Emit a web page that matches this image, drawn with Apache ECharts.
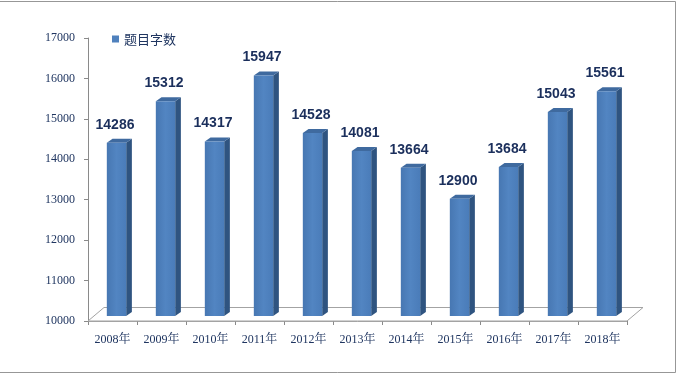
<!DOCTYPE html>
<html>
<head>
<meta charset="utf-8">
<script src="https://cdn.jsdelivr.net/npm/echarts@6/dist/echarts.min.js"></script>
<style>html,body{margin:0;padding:0;background:#fff;}#c{width:677px;height:374px;}</style>
</head>
<body>
<div id="c"></div>
<script>
const categories = ['2008年','2009年','2010年','2011年','2012年','2013年','2014年','2015年','2016年','2017年','2018年'];
const values = [14286, 15312, 14317, 15947, 14528, 14081, 13664, 12900, 13684, 15043, 15561];
const seriesName = '题目字数';
const yMin = 10000, yMax = 17000, yStep = 1000;

const FRONT = new echarts.graphic.LinearGradient(0, 0, 1, 0, [
  {offset: 0, color: '#4777b2'}, {offset: 0.5, color: '#5285c2'}, {offset: 1, color: '#4a7cb9'}
]);
const SIDE = '#2f5480';
const TOP = '#3f6a9f';
const LABEL = '#1b2f5c';
const AXIS = '#8a8a8a';

function renderFloor(params, api) {
  const cs = params.coordSys;
  const fx0 = cs.x, fx1 = cs.x + cs.width, fy = cs.y + cs.height;
  const dx = 16, dy = -13.5;
  return {
    type: 'polygon',
    shape: {points: [[fx0, fy], [fx0 + dx, fy + dy], [fx1 + dx, fy + dy], [fx1, fy]]},
    style: {fill: '#ffffff', stroke: '#a3a3a3', lineWidth: 1}
  };
}

function renderBar(params, api) {
  const cat = api.value(0), val = api.value(1);
  const top = api.coord([cat, val]);
  const base = api.coord([cat, yMin]);
  const band = api.size([1, 0])[0];
  const w = band * 0.395;
  const sx = 4, sy = -5;
  const dx = 5.7, dy = -4;
  const x0 = top[0] - w / 2 + sx, x1 = x0 + w;
  const yt = top[1] + sy, yb = base[1] + sy;
  return {
    type: 'group',
    children: [
      {type: 'polygon', shape: {points: [[x1, yt], [x1 + dx, yt + dy], [x1 + dx, yb + dy], [x1, yb]]}, style: {fill: SIDE}},
      {type: 'polygon', shape: {points: [[x0, yt], [x0 + dx, yt + dy], [x1 + dx, yt + dy], [x1, yt]]}, style: {fill: TOP}},
      {type: 'rect', shape: {x: x0, y: yt, width: w, height: yb - yt}, style: {fill: FRONT}},
      {type: 'text', style: {text: String(val), x: x0 + w / 2 - 1.5, y: yt - 18, align: 'center', verticalAlign: 'middle',
        font: 'bold 14px "Liberation Sans", Arial, sans-serif', fill: LABEL}}
    ]
  };
}

const chart = echarts.init(document.getElementById('c'), null, {renderer: 'canvas'});
chart.setOption({
  animation: false,
  backgroundColor: '#ffffff',
  graphic: [{
    type: 'rect', z: 100, silent: true,
    shape: {x: -2, y: 1.5, width: 677.5, height: 371},
    style: {fill: 'none', stroke: '#979797', lineWidth: 1}
  }],
  legend: {
    data: [{name: seriesName, icon: 'rect'}],
    left: 112, top: 32.5, padding: 0,
    itemWidth: 7, itemHeight: 7,
    textStyle: {fontSize: 13, color: '#1f3560', fontFamily: '"Noto Sans CJK SC", sans-serif'}
  },
  grid: {left: 88, right: 50, top: 38, bottom: 53, containLabel: false},
  xAxis: {
    type: 'category', data: categories, boundaryGap: true,
    axisLine: {lineStyle: {color: '#a3a3a3'}},
    axisTick: {show: true, interval: 0, alignWithLabel: false, length: 4, lineStyle: {color: AXIS}},
    axisLabel: {interval: 0, margin: 13, fontSize: 12, color: '#1f3560',
      fontFamily: '"Liberation Serif", "Times New Roman", "Noto Serif CJK SC", serif'}
  },
  yAxis: {
    type: 'value', min: yMin, max: yMax, interval: yStep,
    splitLine: {show: false},
    axisLine: {show: true, lineStyle: {color: AXIS}},
    axisTick: {show: true, length: 4, lineStyle: {color: AXIS}},
    axisLabel: {margin: 13, fontSize: 12, color: '#1f3560',
      formatter: v => String(v),
      fontFamily: '"Liberation Serif", "Times New Roman", serif'}
  },
  series: [
    {type: 'custom', name: 'floor', renderItem: renderFloor, data: [[0, yMin]], silent: true, z: 1, tooltip: {show: false}},
    {type: 'custom', name: seriesName, renderItem: renderBar, itemStyle: {color: '#4F81BD'},
      data: values.map((v, i) => [i, v]), encode: {x: 0, y: 1}, z: 2}
  ]
});
</script>
</body>
</html>
